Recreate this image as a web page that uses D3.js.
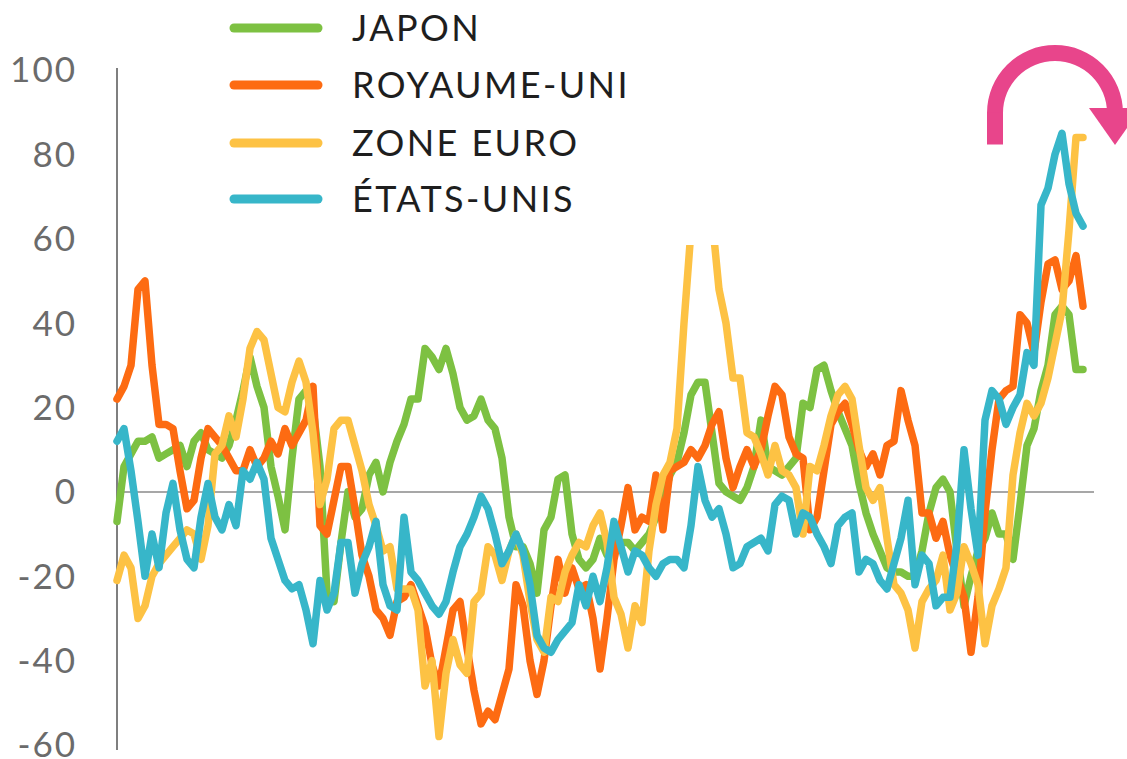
<!DOCTYPE html>
<html>
<head>
<meta charset="utf-8">
<script src="https://cdn.jsdelivr.net/npm/d3@7"></script>
<style>
  html, body { margin: 0; padding: 0; background: #ffffff; }
  svg { display: block; }
  text { font-family: Lato, "Open Sans", sans-serif; }
</style>
</head>
<body>
<svg id="chart" width="1127" height="759"></svg>
<script>
// ---------------- DATA ----------------
const seriesNames = ["JAPON", "ROYAUME-UNI", "ZONE EURO", "ÉTATS-UNIS"];
const seriesColors = ["#7dc142", "#fd6b12", "#fdc244", "#37b6c9"];

const japon = [
  -7, 6, 9, 12, 12, 13, 8, 9, 10, 11, 6, 12, 14, 10, 9, 8, 11, 17, 24, 32,
  25, 20, 6, -1, -9, 8, 22, 24, 20, 6, -24, -26, -12, 0, -6, -4, 4, 7, 0, 7,
  12, 16, 22, 22, 34, 32, 29, 34, 28, 20, 17, 18, 22, 17, 15, 8, -6, -13, -13, -17,
  -24, -9, -6, 3, 4, -10, -16, -18, -16, -11, -15, -13, -12, -12, -14, -12, -10, -6, -2, 4,
  7, 14, 23, 26, 26, 14, 2, 0, -1, -2, 1, 6, 17, 6, 5, 4, 6, 8, 21, 20,
  29, 30, 24, 19, 15, 11, 2, -5, -10, -14, -18, -19, -19, -20, -20, -14, -5, 1, 3, 0,
  -14, -27, -20, -14, -11, -5, -10, -10, -16, -3, 11, 15, 24, 30, 42, 44, 42, 29, 29
];

const royaumeUni = [
  22, 25, 30, 48, 50, 30, 16, 16, 15, 5, -4, -2, 8, 15, 13, 11, 8, 5, 5, 10,
  6, 8, 12, 9, 15, 11, 14, 17, 25, -8, -10, -2, 6, 6, -4, -15, -20, -28, -30, -34,
  -26, -25, -22, -27, -32, -41, -46, -37, -28, -26, -37, -47, -55, -52, -54, -48, -42, -22, -27, -40,
  -48, -40, -27, -16, -24, -18, -23, -22, -30, -42, -30, -16, -8, 1, -9, -6, -7, 4, -9, 5,
  6, 7, 10, 8, 11, 16, 19, 8, 1, 6, 10, 6, 10, 18, 25, 23, 13, 9, 8, -9,
  -6, 5, 16, 19, 21, 16, 10, 6, 9, 4, 11, 12, 24, 17, 11, -5, -5, -11, -7, -15,
  -20, -25, -38, -25, -5, 10, 22, 24, 25, 42, 40, 33, 45, 54, 55, 48, 50, 56, 44
];

const zoneEuro = [
  -21, -15, -18, -30, -27, -20, -17, -15, -13, -11, -9, -10, -16, -8, 9, 11, 18, 13, 22, 34,
  38, 36, 28, 20, 19, 26, 31, 26, 14, -3, 3, 15, 17, 17, 11, 5, -3, -8, -14, -13,
  -23, -23, -23, -28, -46, -40, -58, -43, -35, -41, -43, -26, -24, -13, -15, -21, -14, -10, -15, -26,
  -35, -38, -25, -26, -19, -15, -12, -13, -8, -5, -12, -25, -29, -37, -27, -31, -14, -3, 4, 7,
  15, 40, 62, 80, 80, 65, 48, 40, 27, 27, 14, 13, 9, 4, 11, 5, 4, 1, -10, 6,
  5, 11, 18, 23, 25, 22, 11, 1, -2, 1, -11, -22, -24, -28, -37, -26, -23, -21, -15, -28,
  -24, -13, -17, -22, -36, -27, -23, -18, 4, 14, 21, 18, 21, 27, 35, 43, 62, 84, 84
];

const etatsUnis = [
  12, 15, 5, -7, -20, -10, -18, -5, 2, -9, -16, -18, -6, 2, -6, -9, -3, -8, 5, 3,
  7, 3, -11, -16, -21, -23, -22, -28, -36, -21, -28, -24, -12, -12, -24, -17, -13, -7, -22, -27,
  -28, -6, -19, -21, -24, -27, -29, -26, -19, -13, -10, -6, -1, -4, -10, -17, -14, -10, -14, -22,
  -34, -37, -38, -35, -33, -31, -22, -27, -20, -26, -18, -7, -13, -19, -14, -15, -18, -20, -17, -16,
  -16, -18, -8, 6, -2, -6, -4, -10, -18, -17, -13, -12, -11, -14, -3, -1, -2, -10, -5, -6,
  -10, -13, -17, -8, -6, -5, -19, -16, -17, -21, -23, -17, -11, -2, -22, -15, -17, -27, -25, -25,
  -12, 10, -4, -15, 17, 24, 22, 16, 20, 23, 33, 30, 68, 72, 80, 85, 73, 66, 63
];

const yTicks = [-60, -40, -20, 0, 20, 40, 60, 80, 100];
const yTickLabels = ["-60", "-40", "-20", "0", "20", "40", "60", "80", "100"];

// ---------------- LAYOUT ----------------
const svg = d3.select("#chart");
const W = 1127, H = 759;
const plotLeft = 117, plotRight = 1083, plotTop = 70, plotBottom = 745;

const allSeries = [japon, royaumeUni, zoneEuro, etatsUnis];
const n = japon.length;

const x = d3.scaleLinear().domain([0, n - 1]).range([plotLeft, plotRight]);
const y = d3.scaleLinear().domain([-60, 100]).range([plotBottom, plotTop]);

// y axis labels
const yAxis = d3.axisLeft(y)
  .tickValues(yTicks)
  .tickFormat((d, i) => yTickLabels[i])
  .tickSize(0)
  .tickPadding(40);

const gy = svg.append("g")
  .attr("transform", `translate(${plotLeft},0)`)
  .call(yAxis);
gy.select(".domain").remove();
gy.selectAll("text")
  .attr("font-size", 35)
  .attr("font-family", "Lato, 'Open Sans', sans-serif")
  .attr("letter-spacing", 2)
  .attr("fill", "#6b6b6b")
  .attr("dy", "0.34em");

// axis line
svg.append("line")
  .attr("x1", plotLeft).attr("x2", plotLeft)
  .attr("y1", plotTop - 2).attr("y2", plotBottom + 5)
  .attr("stroke", "#555").attr("stroke-width", 1.5);

// zero line
svg.append("line")
  .attr("x1", plotLeft).attr("x2", 1094)
  .attr("y1", y(0)).attr("y2", y(0))
  .attr("stroke", "#8a8a8a").attr("stroke-width", 1.5);

// clip for the euro-zone spike (cut off in the original)
const defs = svg.append("defs");
const clip = defs.append("clipPath").attr("id", "euroClip");
clip.append("rect").attr("x", 0).attr("y", 0).attr("width", x(78)).attr("height", H);
clip.append("rect").attr("x", x(78)).attr("y", y(58.5)).attr("width", x(92) - x(78)).attr("height", H);
clip.append("rect").attr("x", x(92)).attr("y", 0).attr("width", W - x(92)).attr("height", H);

const line = d3.line()
  .x((d, i) => x(i))
  .y(d => y(d));

allSeries.forEach((s, k) => {
  svg.append("path")
    .datum(s)
    .attr("d", line)
    .attr("fill", "none")
    .attr("stroke", seriesColors[k])
    .attr("stroke-width", 7.5)
    .attr("stroke-linejoin", "round")
    .attr("stroke-linecap", "round")
    .attr("clip-path", k === 2 ? "url(#euroClip)" : null);
});

// legend
const legendY = [28, 85, 143, 199];
const lg = svg.append("g");
seriesNames.forEach((name, k) => {
  lg.append("line")
    .attr("x1", 234).attr("x2", 318)
    .attr("y1", legendY[k]).attr("y2", legendY[k])
    .attr("stroke", seriesColors[k])
    .attr("stroke-width", 9)
    .attr("stroke-linecap", "round");
  lg.append("text")
    .attr("x", 352).attr("y", legendY[k])
    .attr("dy", "0.36em")
    .attr("font-size", 36)
    .attr("letter-spacing", 2.4)
    .attr("fill", "#1e1e1e")
    .text(name);
});

// pink curved arrow (annotation)
const arrowColor = "#e8458b";
const cx = 1055, cy = 113, r = 60;
const arcGen = d3.arc()
  .innerRadius(r - 8).outerRadius(r + 8)
  .startAngle(-Math.PI / 2).endAngle(Math.PI / 2);
svg.append("path")
  .attr("d", arcGen())
  .attr("transform", `translate(${cx},${cy})`)
  .attr("fill", arrowColor);
svg.append("rect")
  .attr("x", cx - r - 8).attr("y", cy - 0.5)
  .attr("width", 16).attr("height", 145 - cy)
  .attr("fill", arrowColor);
svg.append("path")
  .attr("d", `M${cx + r - 26},${cy - 5} L${cx + r + 26},${cy - 5} L${cx + r},${cy + 32} Z`)
  .attr("fill", arrowColor);
</script>
</body>
</html>
